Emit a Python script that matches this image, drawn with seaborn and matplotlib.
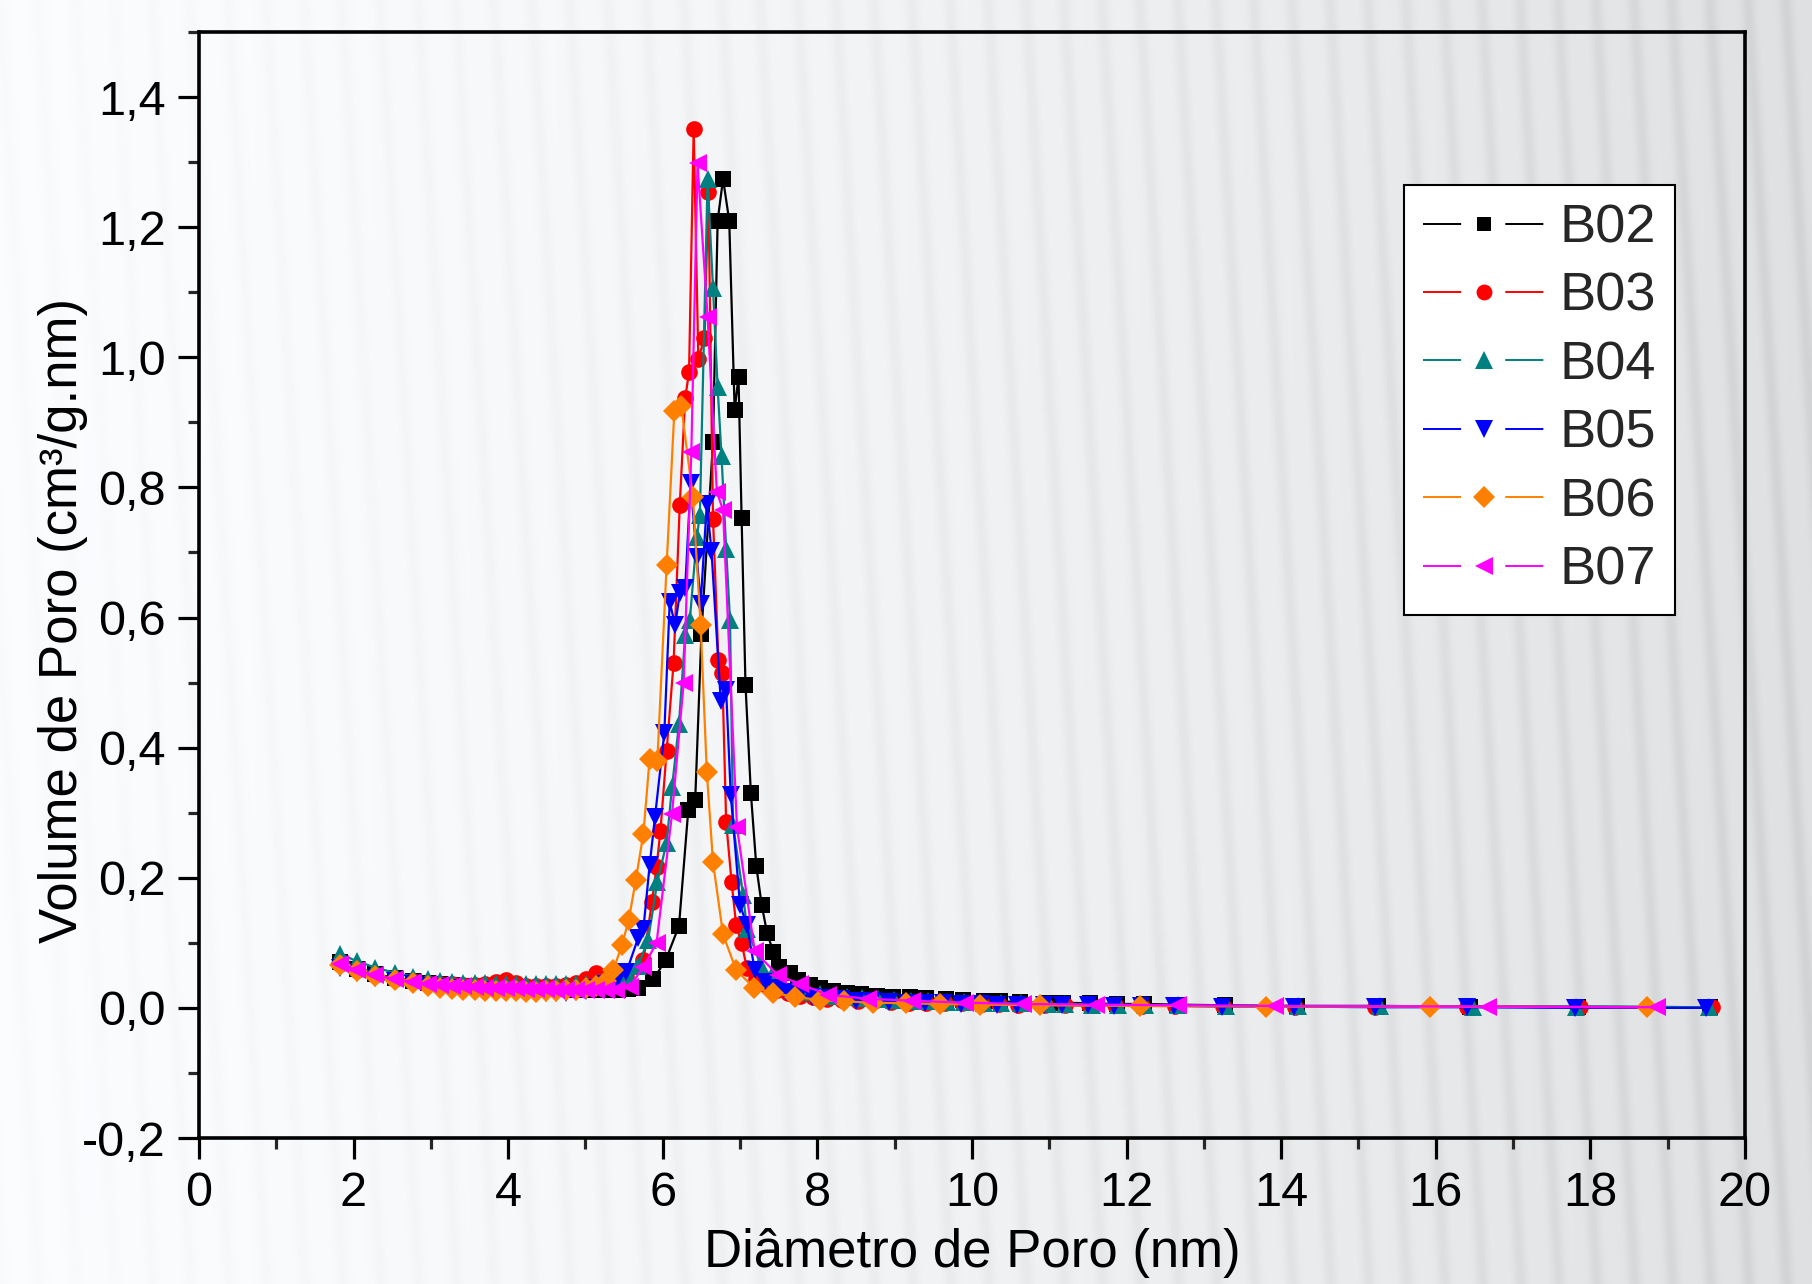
import numpy as np
import matplotlib
matplotlib.use("Agg")
import matplotlib.pyplot as plt
import seaborn as sns
from matplotlib.lines import Line2D
from matplotlib.legend_handler import HandlerTuple
from matplotlib.ticker import MultipleLocator, FuncFormatter

# ---------------- data ----------------
series_names = ["B02", "B03", "B04", "B05", "B06", "B07"]

x_low = [1.82, 2.04, 2.28, 2.53, 2.77, 2.96, 3.12, 3.27, 3.42, 3.57, 3.70, 3.84,
         3.97, 4.10, 4.23, 4.36, 4.49, 4.62, 4.75, 4.88, 5.01, 5.14, 5.27]

b02_y_low = [0.070, 0.060, 0.052, 0.046, 0.042, 0.039, 0.037, 0.035, 0.034, 0.033, 0.032, 0.032,
             0.031, 0.031, 0.030, 0.030, 0.029, 0.029, 0.029, 0.028, 0.028, 0.028, 0.028]
b03_y_low = [0.068, 0.058, 0.050, 0.045, 0.041, 0.038, 0.037, 0.036, 0.035, 0.035, 0.036, 0.040,
             0.043, 0.038, 0.034, 0.033, 0.033, 0.034, 0.035, 0.038, 0.045, 0.053, 0.042]
b04_y_low = [0.083, 0.072, 0.062, 0.054, 0.048, 0.044, 0.041, 0.040, 0.039, 0.038, 0.038, 0.037,
             0.037, 0.036, 0.036, 0.036, 0.036, 0.036, 0.036, 0.036, 0.037, 0.038, 0.040]
b05_y_low = [0.062, 0.053, 0.046, 0.041, 0.037, 0.034, 0.032, 0.030, 0.029, 0.028, 0.027, 0.026,
             0.026, 0.025, 0.024, 0.024, 0.023, 0.023, 0.023, 0.024, 0.026, 0.030, 0.036]
b06_y_low = [0.066, 0.056, 0.049, 0.043, 0.038, 0.034, 0.031, 0.029, 0.028, 0.027, 0.026, 0.026,
             0.026, 0.026, 0.025, 0.025, 0.026, 0.026, 0.027, 0.028, 0.030, 0.034, 0.042]
b07_y_low = [0.068, 0.058, 0.050, 0.044, 0.040, 0.037, 0.035, 0.034, 0.033, 0.032, 0.031, 0.031,
             0.030, 0.030, 0.029, 0.029, 0.029, 0.028, 0.028, 0.028, 0.028, 0.028, 0.028]

b02_x = [5.42, 5.55, 5.68, 5.88, 6.04, 6.21, 6.33, 6.42, 6.50, 6.65, 6.71, 6.78, 6.86, 6.93,
         6.98, 7.02, 7.07, 7.14, 7.21, 7.28, 7.35, 7.43, 7.51, 7.64, 7.75, 7.90, 8.03, 8.20,
         8.38, 8.57, 8.77, 8.98, 9.20, 9.41, 9.67, 9.89, 10.15, 10.36, 10.62, 10.97, 11.18,
         11.53, 11.87, 12.22, 12.65, 13.27, 14.20, 15.25, 16.44, 17.84, 19.55]
b02_y = [0.028, 0.029, 0.030, 0.044, 0.074, 0.126, 0.304, 0.320, 0.575, 0.870, 1.210, 1.274,
         1.210, 0.919, 0.970, 0.753, 0.497, 0.330, 0.218, 0.158, 0.115, 0.086, 0.063, 0.053,
         0.043, 0.035, 0.030, 0.026, 0.023, 0.021, 0.019, 0.017, 0.016, 0.015, 0.013, 0.012,
         0.011, 0.010, 0.009, 0.008, 0.008, 0.007, 0.006, 0.006, 0.005, 0.004, 0.003, 0.003,
         0.002, 0.002, 0.001]

b03_x = [5.30, 5.52, 5.75, 5.86, 5.92, 5.97, 6.05, 6.14, 6.22, 6.29, 6.34, 6.40, 6.46, 6.54,
         6.59, 6.65, 6.72, 6.77, 6.82, 6.89, 6.95, 7.02, 7.09, 7.20, 7.33, 7.48, 7.62, 7.78,
         7.95, 8.12, 8.32, 8.52, 8.73, 8.95, 9.18, 9.40, 9.65, 9.87, 10.13, 10.35, 10.60,
         10.95, 11.20, 11.52, 11.85, 12.20, 12.63, 13.25, 14.18, 15.22, 16.40, 17.86, 19.57]
b03_y = [0.040, 0.048, 0.073, 0.163, 0.217, 0.272, 0.395, 0.530, 0.773, 0.937, 0.977, 1.351,
         0.998, 1.029, 1.254, 0.752, 0.534, 0.515, 0.286, 0.194, 0.127, 0.099, 0.061, 0.045,
         0.035, 0.028, 0.023, 0.019, 0.016, 0.014, 0.012, 0.011, 0.010, 0.009, 0.008, 0.008,
         0.007, 0.007, 0.006, 0.006, 0.005, 0.005, 0.004, 0.004, 0.004, 0.003, 0.003, 0.003,
         0.002, 0.002, 0.002, 0.001, 0.001]

b04_x = [5.40, 5.55, 5.68, 5.81, 5.93, 6.05, 6.12, 6.21, 6.29, 6.35, 6.44, 6.48, 6.58, 6.65,
         6.71, 6.76, 6.82, 6.87, 6.91, 7.04, 7.09, 7.26, 7.40, 7.55, 7.70, 7.86, 8.03, 8.20,
         8.38, 8.58, 8.78, 8.99, 9.21, 9.43, 9.68, 9.90, 10.16, 10.38, 10.64, 10.98, 11.20,
         11.55, 11.89, 12.24, 12.67, 13.29, 14.22, 15.28, 16.48, 17.82, 19.53]
b04_y = [0.042, 0.050, 0.065, 0.104, 0.194, 0.254, 0.339, 0.437, 0.573, 0.596, 0.724, 0.757,
         1.274, 1.106, 0.954, 0.849, 0.706, 0.596, 0.281, 0.173, 0.122, 0.068, 0.048, 0.037,
         0.030, 0.025, 0.022, 0.019, 0.017, 0.015, 0.013, 0.012, 0.011, 0.010, 0.009, 0.009,
         0.008, 0.007, 0.007, 0.006, 0.006, 0.005, 0.005, 0.004, 0.004, 0.003, 0.003, 0.003,
         0.002, 0.002, 0.001]

b05_x = [5.40, 5.53, 5.68, 5.75, 5.83, 5.90, 6.02, 6.09, 6.16, 6.22, 6.29, 6.36, 6.44, 6.49,
         6.57, 6.63, 6.75, 6.82, 6.88, 7.00, 7.09, 7.19, 7.32, 7.46, 7.60, 7.76, 7.93, 8.10,
         8.30, 8.50, 8.71, 8.93, 9.16, 9.39, 9.63, 9.86, 10.12, 10.33, 10.58, 10.93, 11.16,
         11.50, 11.84, 12.19, 12.62, 13.24, 14.16, 15.22, 16.40, 17.80, 19.50]
b05_y = [0.040, 0.055, 0.107, 0.122, 0.219, 0.294, 0.422, 0.624, 0.588, 0.637, 0.645, 0.806,
         0.693, 0.621, 0.775, 0.703, 0.472, 0.488, 0.327, 0.158, 0.127, 0.058, 0.040, 0.030,
         0.024, 0.020, 0.017, 0.015, 0.013, 0.011, 0.010, 0.009, 0.008, 0.008, 0.007, 0.006,
         0.006, 0.005, 0.005, 0.004, 0.004, 0.004, 0.003, 0.003, 0.003, 0.002, 0.002, 0.001,
         0.001, 0.000, 0.000]

b06_x = [5.36, 5.47, 5.56, 5.65, 5.75, 5.83, 5.93, 6.05, 6.15, 6.24, 6.39, 6.49, 6.57, 6.65,
         6.78, 6.95, 7.18, 7.43, 7.71, 8.03, 8.34, 8.72, 9.15, 9.59, 10.10, 10.88, 12.17,
         13.81, 15.93, 18.73]
b06_y = [0.058, 0.096, 0.135, 0.196, 0.268, 0.383, 0.380, 0.680, 0.917, 0.925, 0.785, 0.588,
         0.363, 0.224, 0.113, 0.058, 0.031, 0.023, 0.017, 0.012, 0.010, 0.008, 0.007, 0.006,
         0.005, 0.004, 0.003, 0.002, 0.002, 0.001]

b07_x = [5.40, 5.57, 5.75, 5.92, 6.12, 6.27, 6.37, 6.45, 6.58, 6.70, 6.78, 6.96, 7.19, 7.49,
         7.77, 8.14, 8.66, 9.22, 9.91, 10.66, 11.61, 12.67, 13.92, 16.67, 18.86]
b07_y = [0.027, 0.032, 0.063, 0.100, 0.298, 0.499, 0.855, 1.298, 1.062, 0.793, 0.765, 0.278,
         0.087, 0.050, 0.037, 0.020, 0.014, 0.011, 0.008, 0.006, 0.005, 0.004, 0.003, 0.002,
         0.001]

x_ticks = [0, 2, 4, 6, 8, 10, 12, 14, 16, 18, 20]
y_ticks = [-0.2, 0.0, 0.2, 0.4, 0.6, 0.8, 1.0, 1.2, 1.4]

# ---------------- style ----------------
colors = ["#000000", "#FF0000", "#008080", "#0000FF", "#FF8000", "#FF00FF"]
markers = ["s", "o", "^", "v", "D", "<"]
msizes = [11.0, 12.0, 13.5, 13.5, 11.5, 13.5]

sns.set_theme(style="ticks")
plt.rcParams["font.family"] = ["Liberation Sans", "DejaVu Sans"]

W, H = 1812, 1284
fig = plt.figure(figsize=(W / 100, H / 100), dpi=100)

# decorative striped background (photo-like)
yy, xx = np.mgrid[0:H // 2, 0:W // 2].astype(float)
u = xx / (W / 2)
v = yy / (H / 2)
phase = (xx * 2 + (H - yy * 2) * 0.06) / 38.0
stripe = (0.5 * (1 + np.cos(2 * np.pi * phase))) ** 3
base = 0.997 - 0.11 * u ** 1.6
amp = 0.010 + 0.045 * u ** 1.3
val = base - amp * stripe
img = np.dstack([val * 0.985, val * 0.992, val * 1.0])
img = np.clip(img, 0, 1)
bg = fig.add_axes([0, 0, 1, 1], zorder=-10)
bg.imshow(img, aspect="auto", extent=[0, 1, 0, 1], interpolation="bilinear")
bg.axis("off")

ax = fig.add_axes([0.1098, 0.1137, 0.8532, 0.8614])
ax.patch.set_alpha(0)

xs_all = [x_low + b02_x, x_low + b03_x, x_low + b04_x, x_low + b05_x, x_low + b06_x, x_low + b07_x]
ys_all = [b02_y_low + b02_y, b03_y_low + b03_y, b04_y_low + b04_y,
          b05_y_low + b05_y, b06_y_low + b06_y, b07_y_low + b07_y]

for i, (name, xs, ys) in enumerate(zip(series_names, xs_all, ys_all)):
    sns.lineplot(x=xs, y=ys, ax=ax, color=colors[i], marker=markers[i],
                 markersize=msizes[i], markeredgewidth=0, linewidth=1.6,
                 estimator=None, sort=True, legend=False, zorder=3 + i)

ax.set_xlim(0, 20)
ax.set_ylim(-0.2, 1.5)
ax.set_xticks(x_ticks)
ax.set_yticks(y_ticks)
ax.xaxis.set_minor_locator(MultipleLocator(1))
ax.yaxis.set_minor_locator(MultipleLocator(0.1))
ax.yaxis.set_major_formatter(FuncFormatter(lambda val, pos: f"{val:.1f}".replace(".", ",").replace("−", "-")))
ax.xaxis.set_major_formatter(FuncFormatter(lambda val, pos: f"{val:.0f}"))

for sp in ax.spines.values():
    sp.set_linewidth(2.6)
    sp.set_color("black")
ax.tick_params(which="major", direction="out", length=15, width=2.3, labelsize=35,
               pad=9, colors="black", top=False, right=False)
ax.tick_params(which="minor", direction="out", length=8, width=2.3, top=False, right=False)

ax.set_xlabel("Diâmetro de Poro (nm)", fontsize=38, color="black")
ax.set_ylabel("Volume de Poro (cm³/g.nm)", fontsize=38, color="black")
ax.xaxis.set_label_coords(0.5, -0.081)
ax.yaxis.set_label_coords(-0.072, 0.468)

# legend in Origin style: line - marker - line
handles = []
for i in range(6):
    ln = Line2D([], [], color=colors[i], linewidth=1.4, linestyle=(0, (19.6, 22.7)))
    mk = Line2D([], [], color=colors[i], marker=markers[i], linestyle="none",
                markersize=msizes[i] * 0.95, markeredgewidth=0)
    handles.append((ln, mk))
leg = ax.legend(handles, series_names, handler_map={tuple: HandlerTuple(ndivide=1, pad=0)},
                loc="upper right", bbox_to_anchor=(0.955, 0.862), borderaxespad=0,
                fontsize=39, frameon=True, fancybox=False, framealpha=1,
                edgecolor="black", handlelength=2.22, handletextpad=0.3,
                labelspacing=0.34, borderpad=0.35)
leg.get_frame().set_linewidth(1.5)

fig.savefig("out.png", dpi=100)
